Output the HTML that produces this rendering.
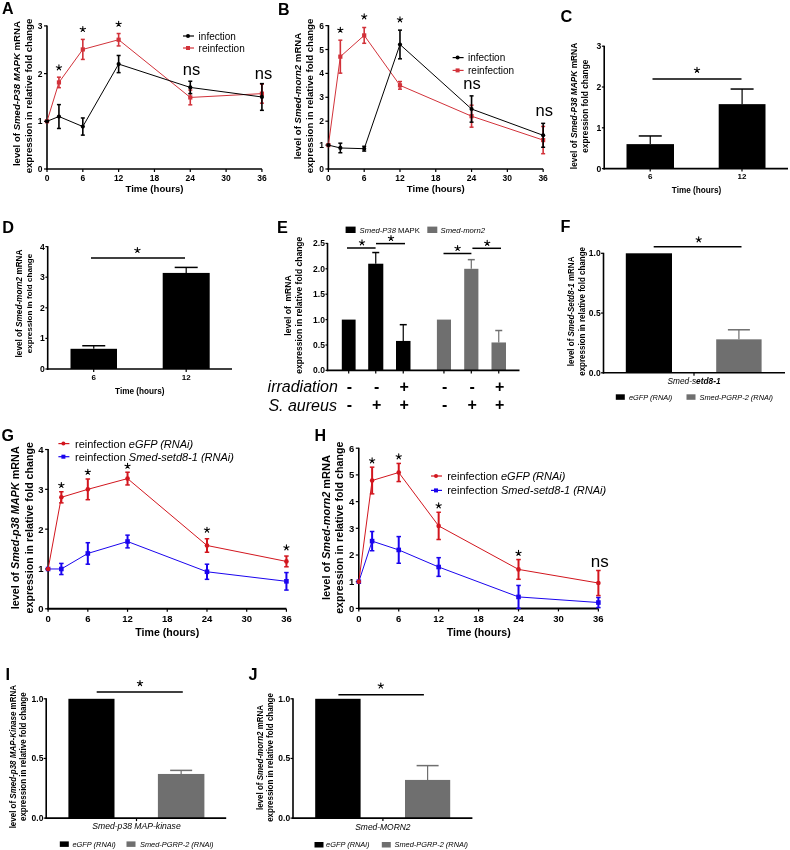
<!DOCTYPE html>
<html><head><meta charset="utf-8"><style>
html,body{margin:0;padding:0;background:#fff;}
svg{display:block;filter:blur(0.3px);}
text{font-family:"Liberation Sans",sans-serif;}
</style></head><body>
<svg width="790" height="850" viewBox="0 0 790 850">
<rect x="0" y="0" width="790" height="850" fill="#fff"/>
<text x="2.00" y="14.46" font-size="16" text-anchor="start" fill="#000" xml:space="preserve"><tspan font-weight="bold" font-style="normal">A</tspan></text>
<line x1="47.00" y1="169.80" x2="47.00" y2="25.40" stroke="#000" stroke-width="1.6" stroke-linecap="butt"/>
<line x1="44.00" y1="169.00" x2="47.00" y2="169.00" stroke="#000" stroke-width="1.2" stroke-linecap="butt"/>
<text x="42.50" y="172.04" font-size="8.5" text-anchor="end" fill="#000" xml:space="preserve"><tspan font-weight="bold" font-style="normal">0</tspan></text>
<line x1="44.00" y1="121.30" x2="47.00" y2="121.30" stroke="#000" stroke-width="1.2" stroke-linecap="butt"/>
<text x="42.50" y="124.34" font-size="8.5" text-anchor="end" fill="#000" xml:space="preserve"><tspan font-weight="bold" font-style="normal">1</tspan></text>
<line x1="44.00" y1="73.60" x2="47.00" y2="73.60" stroke="#000" stroke-width="1.2" stroke-linecap="butt"/>
<text x="42.50" y="76.64" font-size="8.5" text-anchor="end" fill="#000" xml:space="preserve"><tspan font-weight="bold" font-style="normal">2</tspan></text>
<line x1="44.00" y1="25.90" x2="47.00" y2="25.90" stroke="#000" stroke-width="1.2" stroke-linecap="butt"/>
<text x="42.50" y="28.94" font-size="8.5" text-anchor="end" fill="#000" xml:space="preserve"><tspan font-weight="bold" font-style="normal">3</tspan></text>
<line x1="46.20" y1="169.00" x2="261.92" y2="169.00" stroke="#000" stroke-width="1.6" stroke-linecap="butt"/>
<line x1="47.00" y1="169.00" x2="47.00" y2="172.00" stroke="#000" stroke-width="1.2" stroke-linecap="butt"/>
<text x="47.00" y="181.04" font-size="8.5" text-anchor="middle" fill="#000" xml:space="preserve"><tspan font-weight="bold" font-style="normal">0</tspan></text>
<line x1="82.82" y1="169.00" x2="82.82" y2="172.00" stroke="#000" stroke-width="1.2" stroke-linecap="butt"/>
<text x="82.82" y="181.04" font-size="8.5" text-anchor="middle" fill="#000" xml:space="preserve"><tspan font-weight="bold" font-style="normal">6</tspan></text>
<line x1="118.64" y1="169.00" x2="118.64" y2="172.00" stroke="#000" stroke-width="1.2" stroke-linecap="butt"/>
<text x="118.64" y="181.04" font-size="8.5" text-anchor="middle" fill="#000" xml:space="preserve"><tspan font-weight="bold" font-style="normal">12</tspan></text>
<line x1="154.46" y1="169.00" x2="154.46" y2="172.00" stroke="#000" stroke-width="1.2" stroke-linecap="butt"/>
<text x="154.46" y="181.04" font-size="8.5" text-anchor="middle" fill="#000" xml:space="preserve"><tspan font-weight="bold" font-style="normal">18</tspan></text>
<line x1="190.28" y1="169.00" x2="190.28" y2="172.00" stroke="#000" stroke-width="1.2" stroke-linecap="butt"/>
<text x="190.28" y="181.04" font-size="8.5" text-anchor="middle" fill="#000" xml:space="preserve"><tspan font-weight="bold" font-style="normal">24</tspan></text>
<line x1="226.10" y1="169.00" x2="226.10" y2="172.00" stroke="#000" stroke-width="1.2" stroke-linecap="butt"/>
<text x="226.10" y="181.04" font-size="8.5" text-anchor="middle" fill="#000" xml:space="preserve"><tspan font-weight="bold" font-style="normal">30</tspan></text>
<line x1="261.92" y1="169.00" x2="261.92" y2="172.00" stroke="#000" stroke-width="1.2" stroke-linecap="butt"/>
<text x="261.92" y="181.04" font-size="8.5" text-anchor="middle" fill="#000" xml:space="preserve"><tspan font-weight="bold" font-style="normal">36</tspan></text>
<text x="154.46" y="192.30" font-size="9.6" text-anchor="middle" fill="#000" xml:space="preserve"><tspan font-weight="bold" font-style="normal">Time (hours)</tspan></text>
<text x="19.60" y="93.60" font-size="9.6" text-anchor="middle" fill="#000" transform="rotate(-90 19.60 93.60)" xml:space="preserve"><tspan font-weight="bold" font-style="normal">level of </tspan><tspan font-weight="bold" font-style="italic">Smed-P38 MAPK</tspan><tspan font-weight="bold" font-style="normal"> mRNA</tspan></text>
<text x="32.00" y="96.00" font-size="9.6" text-anchor="middle" fill="#000" transform="rotate(-90 32.00 96.00)" xml:space="preserve"><tspan font-weight="bold" font-style="normal">expression in relative fold change</tspan></text>
<polyline points="47.00,121.30 58.94,82.42 82.82,49.42 118.64,39.73 190.28,97.45 261.92,93.63" fill="none" stroke="#d2323a" stroke-width="1" stroke-linejoin="round"/>
<line x1="58.94" y1="77.18" x2="58.94" y2="87.67" stroke="#d2323a" stroke-width="1.6" stroke-linecap="butt"/>
<line x1="56.94" y1="77.18" x2="60.94" y2="77.18" stroke="#d2323a" stroke-width="1.5" stroke-linecap="butt"/>
<line x1="56.94" y1="87.67" x2="60.94" y2="87.67" stroke="#d2323a" stroke-width="1.5" stroke-linecap="butt"/>
<line x1="82.82" y1="39.40" x2="82.82" y2="59.43" stroke="#d2323a" stroke-width="1.6" stroke-linecap="butt"/>
<line x1="80.82" y1="39.40" x2="84.82" y2="39.40" stroke="#d2323a" stroke-width="1.5" stroke-linecap="butt"/>
<line x1="80.82" y1="59.43" x2="84.82" y2="59.43" stroke="#d2323a" stroke-width="1.5" stroke-linecap="butt"/>
<line x1="118.64" y1="33.53" x2="118.64" y2="45.93" stroke="#d2323a" stroke-width="1.6" stroke-linecap="butt"/>
<line x1="116.64" y1="33.53" x2="120.64" y2="33.53" stroke="#d2323a" stroke-width="1.5" stroke-linecap="butt"/>
<line x1="116.64" y1="45.93" x2="120.64" y2="45.93" stroke="#d2323a" stroke-width="1.5" stroke-linecap="butt"/>
<line x1="190.28" y1="90.06" x2="190.28" y2="104.84" stroke="#d2323a" stroke-width="1.6" stroke-linecap="butt"/>
<line x1="188.28" y1="90.06" x2="192.28" y2="90.06" stroke="#d2323a" stroke-width="1.5" stroke-linecap="butt"/>
<line x1="188.28" y1="104.84" x2="192.28" y2="104.84" stroke="#d2323a" stroke-width="1.5" stroke-linecap="butt"/>
<line x1="261.92" y1="84.09" x2="261.92" y2="103.17" stroke="#d2323a" stroke-width="1.6" stroke-linecap="butt"/>
<line x1="259.92" y1="84.09" x2="263.92" y2="84.09" stroke="#d2323a" stroke-width="1.5" stroke-linecap="butt"/>
<line x1="259.92" y1="103.17" x2="263.92" y2="103.17" stroke="#d2323a" stroke-width="1.5" stroke-linecap="butt"/>
<rect x="44.90" y="119.20" width="4.20" height="4.20" fill="#d2323a"/>
<rect x="56.84" y="80.32" width="4.20" height="4.20" fill="#d2323a"/>
<rect x="80.72" y="47.32" width="4.20" height="4.20" fill="#d2323a"/>
<rect x="116.54" y="37.63" width="4.20" height="4.20" fill="#d2323a"/>
<rect x="188.18" y="95.35" width="4.20" height="4.20" fill="#d2323a"/>
<rect x="259.82" y="91.53" width="4.20" height="4.20" fill="#d2323a"/>
<polyline points="47.00,121.30 58.94,116.53 82.82,126.55 118.64,64.06 190.28,87.43 261.92,96.97" fill="none" stroke="#000" stroke-width="1" stroke-linejoin="round"/>
<line x1="58.94" y1="104.61" x2="58.94" y2="128.46" stroke="#000" stroke-width="1.6" stroke-linecap="butt"/>
<line x1="56.94" y1="104.61" x2="60.94" y2="104.61" stroke="#000" stroke-width="1.5" stroke-linecap="butt"/>
<line x1="56.94" y1="128.46" x2="60.94" y2="128.46" stroke="#000" stroke-width="1.5" stroke-linecap="butt"/>
<line x1="82.82" y1="117.96" x2="82.82" y2="135.13" stroke="#000" stroke-width="1.6" stroke-linecap="butt"/>
<line x1="80.82" y1="117.96" x2="84.82" y2="117.96" stroke="#000" stroke-width="1.5" stroke-linecap="butt"/>
<line x1="80.82" y1="135.13" x2="84.82" y2="135.13" stroke="#000" stroke-width="1.5" stroke-linecap="butt"/>
<line x1="118.64" y1="55.47" x2="118.64" y2="72.65" stroke="#000" stroke-width="1.6" stroke-linecap="butt"/>
<line x1="116.64" y1="55.47" x2="120.64" y2="55.47" stroke="#000" stroke-width="1.5" stroke-linecap="butt"/>
<line x1="116.64" y1="72.65" x2="120.64" y2="72.65" stroke="#000" stroke-width="1.5" stroke-linecap="butt"/>
<line x1="190.28" y1="81.23" x2="190.28" y2="93.63" stroke="#000" stroke-width="1.6" stroke-linecap="butt"/>
<line x1="188.28" y1="81.23" x2="192.28" y2="81.23" stroke="#000" stroke-width="1.5" stroke-linecap="butt"/>
<line x1="188.28" y1="93.63" x2="192.28" y2="93.63" stroke="#000" stroke-width="1.5" stroke-linecap="butt"/>
<line x1="261.92" y1="83.62" x2="261.92" y2="110.33" stroke="#000" stroke-width="1.6" stroke-linecap="butt"/>
<line x1="259.92" y1="83.62" x2="263.92" y2="83.62" stroke="#000" stroke-width="1.5" stroke-linecap="butt"/>
<line x1="259.92" y1="110.33" x2="263.92" y2="110.33" stroke="#000" stroke-width="1.5" stroke-linecap="butt"/>
<circle cx="47.00" cy="121.30" r="2.1" fill="#000"/>
<circle cx="58.94" cy="116.53" r="2.1" fill="#000"/>
<circle cx="82.82" cy="126.55" r="2.1" fill="#000"/>
<circle cx="118.64" cy="64.06" r="2.1" fill="#000"/>
<circle cx="190.28" cy="87.43" r="2.1" fill="#000"/>
<circle cx="261.92" cy="96.97" r="2.1" fill="#000"/>
<path d="M58.94 67.66L58.94 64.91M58.94 67.66L61.56 66.81M58.94 67.66L60.56 69.89M58.94 67.66L57.32 69.89M58.94 67.66L56.32 66.81" stroke="#000" stroke-width="1.08" stroke-linecap="round" fill="none"/>
<path d="M82.82 29.26L82.82 26.51M82.82 29.26L85.44 28.41M82.82 29.26L84.44 31.49M82.82 29.26L81.20 31.49M82.82 29.26L80.20 28.41" stroke="#000" stroke-width="1.08" stroke-linecap="round" fill="none"/>
<path d="M118.64 24.06L118.64 21.31M118.64 24.06L121.26 23.21M118.64 24.06L120.26 26.29M118.64 24.06L117.02 26.29M118.64 24.06L116.02 23.21" stroke="#000" stroke-width="1.08" stroke-linecap="round" fill="none"/>
<text x="191.50" y="75.00" font-size="16.5" text-anchor="middle" fill="#000" xml:space="preserve"><tspan font-weight="normal" font-style="normal">ns</tspan></text>
<text x="263.50" y="79.00" font-size="16.5" text-anchor="middle" fill="#000" xml:space="preserve"><tspan font-weight="normal" font-style="normal">ns</tspan></text>
<line x1="183.00" y1="36.00" x2="194.00" y2="36.00" stroke="#000" stroke-width="1.2" stroke-linecap="butt"/>
<circle cx="188.00" cy="36.00" r="2.0" fill="#000"/>
<line x1="183.00" y1="48.00" x2="194.00" y2="48.00" stroke="#d2323a" stroke-width="1.2" stroke-linecap="butt"/>
<rect x="186.00" y="46.00" width="4.00" height="4.00" fill="#d2323a"/>
<text x="198.60" y="39.60" font-size="10" text-anchor="start" fill="#000" xml:space="preserve"><tspan font-weight="normal" font-style="normal">infection</tspan></text>
<text x="198.60" y="51.60" font-size="10" text-anchor="start" fill="#000" xml:space="preserve"><tspan font-weight="normal" font-style="normal">reinfection</tspan></text>
<text x="278.00" y="15.46" font-size="16" text-anchor="start" fill="#000" xml:space="preserve"><tspan font-weight="bold" font-style="normal">B</tspan></text>
<line x1="328.40" y1="169.80" x2="328.40" y2="25.10" stroke="#000" stroke-width="1.6" stroke-linecap="butt"/>
<line x1="325.40" y1="169.00" x2="328.40" y2="169.00" stroke="#000" stroke-width="1.2" stroke-linecap="butt"/>
<text x="323.90" y="172.04" font-size="8.5" text-anchor="end" fill="#000" xml:space="preserve"><tspan font-weight="bold" font-style="normal">0</tspan></text>
<line x1="325.40" y1="145.10" x2="328.40" y2="145.10" stroke="#000" stroke-width="1.2" stroke-linecap="butt"/>
<text x="323.90" y="148.14" font-size="8.5" text-anchor="end" fill="#000" xml:space="preserve"><tspan font-weight="bold" font-style="normal">1</tspan></text>
<line x1="325.40" y1="121.20" x2="328.40" y2="121.20" stroke="#000" stroke-width="1.2" stroke-linecap="butt"/>
<text x="323.90" y="124.24" font-size="8.5" text-anchor="end" fill="#000" xml:space="preserve"><tspan font-weight="bold" font-style="normal">2</tspan></text>
<line x1="325.40" y1="97.30" x2="328.40" y2="97.30" stroke="#000" stroke-width="1.2" stroke-linecap="butt"/>
<text x="323.90" y="100.34" font-size="8.5" text-anchor="end" fill="#000" xml:space="preserve"><tspan font-weight="bold" font-style="normal">3</tspan></text>
<line x1="325.40" y1="73.40" x2="328.40" y2="73.40" stroke="#000" stroke-width="1.2" stroke-linecap="butt"/>
<text x="323.90" y="76.44" font-size="8.5" text-anchor="end" fill="#000" xml:space="preserve"><tspan font-weight="bold" font-style="normal">4</tspan></text>
<line x1="325.40" y1="49.50" x2="328.40" y2="49.50" stroke="#000" stroke-width="1.2" stroke-linecap="butt"/>
<text x="323.90" y="52.54" font-size="8.5" text-anchor="end" fill="#000" xml:space="preserve"><tspan font-weight="bold" font-style="normal">5</tspan></text>
<line x1="325.40" y1="25.60" x2="328.40" y2="25.60" stroke="#000" stroke-width="1.2" stroke-linecap="butt"/>
<text x="323.90" y="28.64" font-size="8.5" text-anchor="end" fill="#000" xml:space="preserve"><tspan font-weight="bold" font-style="normal">6</tspan></text>
<line x1="327.60" y1="169.00" x2="543.14" y2="169.00" stroke="#000" stroke-width="1.6" stroke-linecap="butt"/>
<line x1="328.40" y1="169.00" x2="328.40" y2="172.00" stroke="#000" stroke-width="1.2" stroke-linecap="butt"/>
<text x="328.40" y="181.04" font-size="8.5" text-anchor="middle" fill="#000" xml:space="preserve"><tspan font-weight="bold" font-style="normal">0</tspan></text>
<line x1="364.19" y1="169.00" x2="364.19" y2="172.00" stroke="#000" stroke-width="1.2" stroke-linecap="butt"/>
<text x="364.19" y="181.04" font-size="8.5" text-anchor="middle" fill="#000" xml:space="preserve"><tspan font-weight="bold" font-style="normal">6</tspan></text>
<line x1="399.98" y1="169.00" x2="399.98" y2="172.00" stroke="#000" stroke-width="1.2" stroke-linecap="butt"/>
<text x="399.98" y="181.04" font-size="8.5" text-anchor="middle" fill="#000" xml:space="preserve"><tspan font-weight="bold" font-style="normal">12</tspan></text>
<line x1="435.77" y1="169.00" x2="435.77" y2="172.00" stroke="#000" stroke-width="1.2" stroke-linecap="butt"/>
<text x="435.77" y="181.04" font-size="8.5" text-anchor="middle" fill="#000" xml:space="preserve"><tspan font-weight="bold" font-style="normal">18</tspan></text>
<line x1="471.56" y1="169.00" x2="471.56" y2="172.00" stroke="#000" stroke-width="1.2" stroke-linecap="butt"/>
<text x="471.56" y="181.04" font-size="8.5" text-anchor="middle" fill="#000" xml:space="preserve"><tspan font-weight="bold" font-style="normal">24</tspan></text>
<line x1="507.35" y1="169.00" x2="507.35" y2="172.00" stroke="#000" stroke-width="1.2" stroke-linecap="butt"/>
<text x="507.35" y="181.04" font-size="8.5" text-anchor="middle" fill="#000" xml:space="preserve"><tspan font-weight="bold" font-style="normal">30</tspan></text>
<line x1="543.14" y1="169.00" x2="543.14" y2="172.00" stroke="#000" stroke-width="1.2" stroke-linecap="butt"/>
<text x="543.14" y="181.04" font-size="8.5" text-anchor="middle" fill="#000" xml:space="preserve"><tspan font-weight="bold" font-style="normal">36</tspan></text>
<text x="435.77" y="192.30" font-size="9.6" text-anchor="middle" fill="#000" xml:space="preserve"><tspan font-weight="bold" font-style="normal">Time (hours)</tspan></text>
<text x="300.50" y="96.00" font-size="9.6" text-anchor="middle" fill="#000" transform="rotate(-90 300.50 96.00)" xml:space="preserve"><tspan font-weight="bold" font-style="normal">level of </tspan><tspan font-weight="bold" font-style="italic">Smed-morn2</tspan><tspan font-weight="bold" font-style="normal"> mRNA</tspan></text>
<text x="312.50" y="96.00" font-size="9.6" text-anchor="middle" fill="#000" transform="rotate(-90 312.50 96.00)" xml:space="preserve"><tspan font-weight="bold" font-style="normal">expression in relative fold change</tspan></text>
<polyline points="328.40,145.10 340.33,56.67 364.19,35.40 399.98,85.35 471.56,116.18 543.14,140.08" fill="none" stroke="#d2323a" stroke-width="1" stroke-linejoin="round"/>
<line x1="340.33" y1="40.18" x2="340.33" y2="73.16" stroke="#d2323a" stroke-width="1.6" stroke-linecap="butt"/>
<line x1="338.33" y1="40.18" x2="342.33" y2="40.18" stroke="#d2323a" stroke-width="1.5" stroke-linecap="butt"/>
<line x1="338.33" y1="73.16" x2="342.33" y2="73.16" stroke="#d2323a" stroke-width="1.5" stroke-linecap="butt"/>
<line x1="364.19" y1="27.51" x2="364.19" y2="43.29" stroke="#d2323a" stroke-width="1.6" stroke-linecap="butt"/>
<line x1="362.19" y1="27.51" x2="366.19" y2="27.51" stroke="#d2323a" stroke-width="1.5" stroke-linecap="butt"/>
<line x1="362.19" y1="43.29" x2="366.19" y2="43.29" stroke="#d2323a" stroke-width="1.5" stroke-linecap="butt"/>
<line x1="399.98" y1="81.53" x2="399.98" y2="89.17" stroke="#d2323a" stroke-width="1.6" stroke-linecap="butt"/>
<line x1="397.98" y1="81.53" x2="401.98" y2="81.53" stroke="#d2323a" stroke-width="1.5" stroke-linecap="butt"/>
<line x1="397.98" y1="89.17" x2="401.98" y2="89.17" stroke="#d2323a" stroke-width="1.5" stroke-linecap="butt"/>
<line x1="471.56" y1="105.19" x2="471.56" y2="127.18" stroke="#d2323a" stroke-width="1.6" stroke-linecap="butt"/>
<line x1="469.56" y1="105.19" x2="473.56" y2="105.19" stroke="#d2323a" stroke-width="1.5" stroke-linecap="butt"/>
<line x1="469.56" y1="127.18" x2="473.56" y2="127.18" stroke="#d2323a" stroke-width="1.5" stroke-linecap="butt"/>
<line x1="543.14" y1="126.46" x2="543.14" y2="153.70" stroke="#d2323a" stroke-width="1.6" stroke-linecap="butt"/>
<line x1="541.14" y1="126.46" x2="545.14" y2="126.46" stroke="#d2323a" stroke-width="1.5" stroke-linecap="butt"/>
<line x1="541.14" y1="153.70" x2="545.14" y2="153.70" stroke="#d2323a" stroke-width="1.5" stroke-linecap="butt"/>
<rect x="326.30" y="143.00" width="4.20" height="4.20" fill="#d2323a"/>
<rect x="338.23" y="54.57" width="4.20" height="4.20" fill="#d2323a"/>
<rect x="362.09" y="33.30" width="4.20" height="4.20" fill="#d2323a"/>
<rect x="397.88" y="83.25" width="4.20" height="4.20" fill="#d2323a"/>
<rect x="469.46" y="114.08" width="4.20" height="4.20" fill="#d2323a"/>
<rect x="541.04" y="137.98" width="4.20" height="4.20" fill="#d2323a"/>
<polyline points="328.40,145.10 340.33,147.97 364.19,148.69 399.98,44.48 471.56,109.01 543.14,135.30" fill="none" stroke="#000" stroke-width="1" stroke-linejoin="round"/>
<line x1="340.33" y1="143.19" x2="340.33" y2="152.75" stroke="#000" stroke-width="1.6" stroke-linecap="butt"/>
<line x1="338.33" y1="143.19" x2="342.33" y2="143.19" stroke="#000" stroke-width="1.5" stroke-linecap="butt"/>
<line x1="338.33" y1="152.75" x2="342.33" y2="152.75" stroke="#000" stroke-width="1.5" stroke-linecap="butt"/>
<line x1="364.19" y1="146.30" x2="364.19" y2="151.07" stroke="#000" stroke-width="1.6" stroke-linecap="butt"/>
<line x1="362.19" y1="146.30" x2="366.19" y2="146.30" stroke="#000" stroke-width="1.5" stroke-linecap="butt"/>
<line x1="362.19" y1="151.07" x2="366.19" y2="151.07" stroke="#000" stroke-width="1.5" stroke-linecap="butt"/>
<line x1="399.98" y1="30.14" x2="399.98" y2="58.82" stroke="#000" stroke-width="1.6" stroke-linecap="butt"/>
<line x1="397.98" y1="30.14" x2="401.98" y2="30.14" stroke="#000" stroke-width="1.5" stroke-linecap="butt"/>
<line x1="397.98" y1="58.82" x2="401.98" y2="58.82" stroke="#000" stroke-width="1.5" stroke-linecap="butt"/>
<line x1="471.56" y1="95.87" x2="471.56" y2="122.16" stroke="#000" stroke-width="1.6" stroke-linecap="butt"/>
<line x1="469.56" y1="95.87" x2="473.56" y2="95.87" stroke="#000" stroke-width="1.5" stroke-linecap="butt"/>
<line x1="469.56" y1="122.16" x2="473.56" y2="122.16" stroke="#000" stroke-width="1.5" stroke-linecap="butt"/>
<line x1="543.14" y1="123.35" x2="543.14" y2="147.25" stroke="#000" stroke-width="1.6" stroke-linecap="butt"/>
<line x1="541.14" y1="123.35" x2="545.14" y2="123.35" stroke="#000" stroke-width="1.5" stroke-linecap="butt"/>
<line x1="541.14" y1="147.25" x2="545.14" y2="147.25" stroke="#000" stroke-width="1.5" stroke-linecap="butt"/>
<circle cx="328.40" cy="145.10" r="2.1" fill="#000"/>
<circle cx="340.33" cy="147.97" r="2.1" fill="#000"/>
<circle cx="364.19" cy="148.69" r="2.1" fill="#000"/>
<circle cx="399.98" cy="44.48" r="2.1" fill="#000"/>
<circle cx="471.56" cy="109.01" r="2.1" fill="#000"/>
<circle cx="543.14" cy="135.30" r="2.1" fill="#000"/>
<path d="M340.33 30.06L340.33 27.31M340.33 30.06L342.95 29.21M340.33 30.06L341.95 32.29M340.33 30.06L338.71 32.29M340.33 30.06L337.71 29.21" stroke="#000" stroke-width="1.08" stroke-linecap="round" fill="none"/>
<path d="M364.19 16.66L364.19 13.91M364.19 16.66L366.81 15.81M364.19 16.66L365.81 18.89M364.19 16.66L362.57 18.89M364.19 16.66L361.57 15.81" stroke="#000" stroke-width="1.08" stroke-linecap="round" fill="none"/>
<path d="M399.98 19.66L399.98 16.91M399.98 19.66L402.60 18.81M399.98 19.66L401.60 21.89M399.98 19.66L398.36 21.89M399.98 19.66L397.36 18.81" stroke="#000" stroke-width="1.08" stroke-linecap="round" fill="none"/>
<text x="472.00" y="89.40" font-size="16.5" text-anchor="middle" fill="#000" xml:space="preserve"><tspan font-weight="normal" font-style="normal">ns</tspan></text>
<text x="544.30" y="116.00" font-size="16.5" text-anchor="middle" fill="#000" xml:space="preserve"><tspan font-weight="normal" font-style="normal">ns</tspan></text>
<line x1="452.60" y1="57.60" x2="463.60" y2="57.60" stroke="#000" stroke-width="1.2" stroke-linecap="butt"/>
<circle cx="457.60" cy="57.60" r="2.0" fill="#000"/>
<line x1="452.60" y1="70.40" x2="463.60" y2="70.40" stroke="#d2323a" stroke-width="1.2" stroke-linecap="butt"/>
<rect x="455.60" y="68.40" width="4.00" height="4.00" fill="#d2323a"/>
<text x="468.00" y="61.20" font-size="10" text-anchor="start" fill="#000" xml:space="preserve"><tspan font-weight="normal" font-style="normal">infection</tspan></text>
<text x="468.00" y="74.00" font-size="10" text-anchor="start" fill="#000" xml:space="preserve"><tspan font-weight="normal" font-style="normal">reinfection</tspan></text>
<text x="560.50" y="21.87" font-size="16.3" text-anchor="start" fill="#000" xml:space="preserve"><tspan font-weight="bold" font-style="normal">C</tspan></text>
<rect x="626.50" y="144.12" width="47.50" height="24.48" fill="#000"/>
<line x1="650.25" y1="144.12" x2="650.25" y2="135.96" stroke="#000" stroke-width="1.2" stroke-linecap="butt"/>
<line x1="638.75" y1="135.96" x2="661.75" y2="135.96" stroke="#000" stroke-width="1.5" stroke-linecap="butt"/>
<rect x="718.70" y="104.14" width="46.80" height="64.46" fill="#000"/>
<line x1="742.10" y1="104.14" x2="742.10" y2="89.04" stroke="#000" stroke-width="1.2" stroke-linecap="butt"/>
<line x1="730.60" y1="89.04" x2="753.60" y2="89.04" stroke="#000" stroke-width="1.5" stroke-linecap="butt"/>
<line x1="604.20" y1="169.40" x2="604.20" y2="45.70" stroke="#000" stroke-width="1.6" stroke-linecap="butt"/>
<line x1="601.90" y1="168.60" x2="604.20" y2="168.60" stroke="#000" stroke-width="1.2" stroke-linecap="butt"/>
<text x="601.40" y="171.68" font-size="8.6" text-anchor="end" fill="#000" xml:space="preserve"><tspan font-weight="bold" font-style="normal">0</tspan></text>
<line x1="601.90" y1="127.80" x2="604.20" y2="127.80" stroke="#000" stroke-width="1.2" stroke-linecap="butt"/>
<text x="601.40" y="130.88" font-size="8.6" text-anchor="end" fill="#000" xml:space="preserve"><tspan font-weight="bold" font-style="normal">1</tspan></text>
<line x1="601.90" y1="87.00" x2="604.20" y2="87.00" stroke="#000" stroke-width="1.2" stroke-linecap="butt"/>
<text x="601.40" y="90.08" font-size="8.6" text-anchor="end" fill="#000" xml:space="preserve"><tspan font-weight="bold" font-style="normal">2</tspan></text>
<line x1="601.90" y1="46.20" x2="604.20" y2="46.20" stroke="#000" stroke-width="1.2" stroke-linecap="butt"/>
<text x="601.40" y="49.28" font-size="8.6" text-anchor="end" fill="#000" xml:space="preserve"><tspan font-weight="bold" font-style="normal">3</tspan></text>
<line x1="603.40" y1="168.60" x2="788.00" y2="168.60" stroke="#000" stroke-width="1.6" stroke-linecap="butt"/>
<line x1="650.20" y1="168.60" x2="650.20" y2="171.60" stroke="#000" stroke-width="1.2" stroke-linecap="butt"/>
<text x="650.20" y="179.36" font-size="8" text-anchor="middle" fill="#000" xml:space="preserve"><tspan font-weight="bold" font-style="normal">6</tspan></text>
<line x1="742.00" y1="168.60" x2="742.00" y2="171.60" stroke="#000" stroke-width="1.2" stroke-linecap="butt"/>
<text x="742.00" y="179.36" font-size="8" text-anchor="middle" fill="#000" xml:space="preserve"><tspan font-weight="bold" font-style="normal">12</tspan></text>
<text x="696.50" y="192.90" font-size="8.2" text-anchor="middle" fill="#000" xml:space="preserve"><tspan font-weight="bold" font-style="normal">Time (hours)</tspan></text>
<line x1="652.50" y1="79.00" x2="741.50" y2="79.00" stroke="#000" stroke-width="1.5" stroke-linecap="butt"/>
<path d="M697.00 70.16L697.00 67.41M697.00 70.16L699.62 69.31M697.00 70.16L698.62 72.39M697.00 70.16L695.38 72.39M697.00 70.16L694.38 69.31" stroke="#000" stroke-width="1.08" stroke-linecap="round" fill="none"/>
<text x="577.30" y="106.00" font-size="8.37" text-anchor="middle" fill="#000" transform="rotate(-90 577.30 106.00)" xml:space="preserve"><tspan font-weight="bold" font-style="normal">level of </tspan><tspan font-weight="bold" font-style="italic">Smed-P38 MAPK</tspan><tspan font-weight="bold" font-style="normal"> mRNA</tspan></text>
<text x="587.60" y="106.20" font-size="8.35" text-anchor="middle" fill="#000" transform="rotate(-90 587.60 106.20)" xml:space="preserve"><tspan font-weight="bold" font-style="normal">expression fold change</tspan></text>
<text x="2.30" y="232.67" font-size="16.3" text-anchor="start" fill="#000" xml:space="preserve"><tspan font-weight="bold" font-style="normal">D</tspan></text>
<rect x="70.50" y="348.80" width="46.50" height="20.20" fill="#000"/>
<line x1="93.75" y1="348.80" x2="93.75" y2="345.74" stroke="#000" stroke-width="1.2" stroke-linecap="butt"/>
<line x1="82.25" y1="345.74" x2="105.25" y2="345.74" stroke="#000" stroke-width="1.5" stroke-linecap="butt"/>
<rect x="162.70" y="272.92" width="47.00" height="96.08" fill="#000"/>
<line x1="186.20" y1="272.92" x2="186.20" y2="267.41" stroke="#000" stroke-width="1.2" stroke-linecap="butt"/>
<line x1="174.70" y1="267.41" x2="197.70" y2="267.41" stroke="#000" stroke-width="1.5" stroke-linecap="butt"/>
<line x1="47.70" y1="369.80" x2="47.70" y2="246.10" stroke="#000" stroke-width="1.6" stroke-linecap="butt"/>
<line x1="45.40" y1="369.00" x2="47.70" y2="369.00" stroke="#000" stroke-width="1.2" stroke-linecap="butt"/>
<text x="44.90" y="372.08" font-size="8.6" text-anchor="end" fill="#000" xml:space="preserve"><tspan font-weight="bold" font-style="normal">0</tspan></text>
<line x1="45.40" y1="338.40" x2="47.70" y2="338.40" stroke="#000" stroke-width="1.2" stroke-linecap="butt"/>
<text x="44.90" y="341.48" font-size="8.6" text-anchor="end" fill="#000" xml:space="preserve"><tspan font-weight="bold" font-style="normal">1</tspan></text>
<line x1="45.40" y1="307.80" x2="47.70" y2="307.80" stroke="#000" stroke-width="1.2" stroke-linecap="butt"/>
<text x="44.90" y="310.88" font-size="8.6" text-anchor="end" fill="#000" xml:space="preserve"><tspan font-weight="bold" font-style="normal">2</tspan></text>
<line x1="45.40" y1="277.20" x2="47.70" y2="277.20" stroke="#000" stroke-width="1.2" stroke-linecap="butt"/>
<text x="44.90" y="280.28" font-size="8.6" text-anchor="end" fill="#000" xml:space="preserve"><tspan font-weight="bold" font-style="normal">3</tspan></text>
<line x1="45.40" y1="246.60" x2="47.70" y2="246.60" stroke="#000" stroke-width="1.2" stroke-linecap="butt"/>
<text x="44.90" y="249.68" font-size="8.6" text-anchor="end" fill="#000" xml:space="preserve"><tspan font-weight="bold" font-style="normal">4</tspan></text>
<line x1="46.90" y1="369.00" x2="232.00" y2="369.00" stroke="#000" stroke-width="1.6" stroke-linecap="butt"/>
<line x1="93.70" y1="369.00" x2="93.70" y2="372.00" stroke="#000" stroke-width="1.2" stroke-linecap="butt"/>
<text x="93.70" y="379.86" font-size="8" text-anchor="middle" fill="#000" xml:space="preserve"><tspan font-weight="bold" font-style="normal">6</tspan></text>
<line x1="186.20" y1="369.00" x2="186.20" y2="372.00" stroke="#000" stroke-width="1.2" stroke-linecap="butt"/>
<text x="186.20" y="379.86" font-size="8" text-anchor="middle" fill="#000" xml:space="preserve"><tspan font-weight="bold" font-style="normal">12</tspan></text>
<text x="139.80" y="393.90" font-size="8.2" text-anchor="middle" fill="#000" xml:space="preserve"><tspan font-weight="bold" font-style="normal">Time (hours)</tspan></text>
<line x1="91.00" y1="258.00" x2="185.00" y2="258.00" stroke="#000" stroke-width="1.5" stroke-linecap="butt"/>
<path d="M137.40 250.26L137.40 247.51M137.40 250.26L140.02 249.41M137.40 250.26L139.02 252.49M137.40 250.26L135.78 252.49M137.40 250.26L134.78 249.41" stroke="#000" stroke-width="1.08" stroke-linecap="round" fill="none"/>
<text x="22.10" y="303.50" font-size="8.2" text-anchor="middle" fill="#000" transform="rotate(-90 22.10 303.50)" xml:space="preserve"><tspan font-weight="bold" font-style="normal">level of </tspan><tspan font-weight="bold" font-style="italic">Smed-morn2</tspan><tspan font-weight="bold" font-style="normal"> mRNA</tspan></text>
<text x="31.60" y="303.50" font-size="8.07" text-anchor="middle" fill="#000" transform="rotate(-90 31.60 303.50)" xml:space="preserve"><tspan font-weight="bold" font-style="normal">expression in fold change</tspan></text>
<text x="277.00" y="232.67" font-size="16.3" text-anchor="start" fill="#000" xml:space="preserve"><tspan font-weight="bold" font-style="normal">E</tspan></text>
<rect x="341.80" y="319.60" width="13.80" height="50.80" fill="#000"/>
<rect x="368.20" y="263.72" width="15.10" height="106.68" fill="#000"/>
<line x1="375.75" y1="263.72" x2="375.75" y2="252.54" stroke="#000" stroke-width="1.2" stroke-linecap="butt"/>
<line x1="372.25" y1="252.54" x2="379.25" y2="252.54" stroke="#000" stroke-width="1.5" stroke-linecap="butt"/>
<rect x="396.00" y="340.94" width="14.50" height="29.46" fill="#000"/>
<line x1="403.25" y1="340.94" x2="403.25" y2="324.68" stroke="#000" stroke-width="1.2" stroke-linecap="butt"/>
<line x1="399.75" y1="324.68" x2="406.75" y2="324.68" stroke="#000" stroke-width="1.5" stroke-linecap="butt"/>
<rect x="436.90" y="319.60" width="14.10" height="50.80" fill="#6f6f6f"/>
<rect x="464.20" y="268.80" width="14.20" height="101.60" fill="#6f6f6f"/>
<line x1="471.30" y1="268.80" x2="471.30" y2="259.66" stroke="#6f6f6f" stroke-width="1.2" stroke-linecap="butt"/>
<line x1="467.80" y1="259.66" x2="474.80" y2="259.66" stroke="#6f6f6f" stroke-width="1.5" stroke-linecap="butt"/>
<rect x="491.50" y="342.46" width="14.50" height="27.94" fill="#6f6f6f"/>
<line x1="498.75" y1="342.46" x2="498.75" y2="330.52" stroke="#6f6f6f" stroke-width="1.2" stroke-linecap="butt"/>
<line x1="495.25" y1="330.52" x2="502.25" y2="330.52" stroke="#6f6f6f" stroke-width="1.5" stroke-linecap="butt"/>
<line x1="327.50" y1="371.20" x2="327.50" y2="242.90" stroke="#000" stroke-width="1.6" stroke-linecap="butt"/>
<line x1="325.50" y1="370.40" x2="327.50" y2="370.40" stroke="#000" stroke-width="1.2" stroke-linecap="butt"/>
<text x="324.90" y="373.44" font-size="8.5" text-anchor="end" fill="#000" xml:space="preserve"><tspan font-weight="bold" font-style="normal">0.0</tspan></text>
<line x1="325.50" y1="345.00" x2="327.50" y2="345.00" stroke="#000" stroke-width="1.2" stroke-linecap="butt"/>
<text x="324.90" y="348.04" font-size="8.5" text-anchor="end" fill="#000" xml:space="preserve"><tspan font-weight="bold" font-style="normal">0.5</tspan></text>
<line x1="325.50" y1="319.60" x2="327.50" y2="319.60" stroke="#000" stroke-width="1.2" stroke-linecap="butt"/>
<text x="324.90" y="322.64" font-size="8.5" text-anchor="end" fill="#000" xml:space="preserve"><tspan font-weight="bold" font-style="normal">1.0</tspan></text>
<line x1="325.50" y1="294.20" x2="327.50" y2="294.20" stroke="#000" stroke-width="1.2" stroke-linecap="butt"/>
<text x="324.90" y="297.24" font-size="8.5" text-anchor="end" fill="#000" xml:space="preserve"><tspan font-weight="bold" font-style="normal">1.5</tspan></text>
<line x1="325.50" y1="268.80" x2="327.50" y2="268.80" stroke="#000" stroke-width="1.2" stroke-linecap="butt"/>
<text x="324.90" y="271.84" font-size="8.5" text-anchor="end" fill="#000" xml:space="preserve"><tspan font-weight="bold" font-style="normal">2.0</tspan></text>
<line x1="325.50" y1="243.40" x2="327.50" y2="243.40" stroke="#000" stroke-width="1.2" stroke-linecap="butt"/>
<text x="324.90" y="246.44" font-size="8.5" text-anchor="end" fill="#000" xml:space="preserve"><tspan font-weight="bold" font-style="normal">2.5</tspan></text>
<line x1="326.70" y1="370.40" x2="519.50" y2="370.40" stroke="#000" stroke-width="1.6" stroke-linecap="butt"/>
<line x1="348.70" y1="370.40" x2="348.70" y2="373.40" stroke="#000" stroke-width="1.2" stroke-linecap="butt"/>
<line x1="375.75" y1="370.40" x2="375.75" y2="373.40" stroke="#000" stroke-width="1.2" stroke-linecap="butt"/>
<line x1="403.25" y1="370.40" x2="403.25" y2="373.40" stroke="#000" stroke-width="1.2" stroke-linecap="butt"/>
<line x1="443.95" y1="370.40" x2="443.95" y2="373.40" stroke="#000" stroke-width="1.2" stroke-linecap="butt"/>
<line x1="471.30" y1="370.40" x2="471.30" y2="373.40" stroke="#000" stroke-width="1.2" stroke-linecap="butt"/>
<line x1="498.75" y1="370.40" x2="498.75" y2="373.40" stroke="#000" stroke-width="1.2" stroke-linecap="butt"/>
<rect x="345.60" y="226.60" width="10.00" height="6.40" fill="#000"/>
<text x="359.60" y="232.60" font-size="7.7" text-anchor="start" fill="#000" xml:space="preserve"><tspan font-weight="normal" font-style="italic">Smed-P38</tspan><tspan font-weight="normal" font-style="normal"> MAPK</tspan></text>
<rect x="427.30" y="226.60" width="10.00" height="6.40" fill="#6f6f6f"/>
<text x="440.50" y="232.60" font-size="7.7" text-anchor="start" fill="#000" xml:space="preserve"><tspan font-weight="normal" font-style="italic">Smed-morn2</tspan></text>
<line x1="347.00" y1="248.00" x2="375.60" y2="248.00" stroke="#000" stroke-width="1.5" stroke-linecap="butt"/>
<path d="M362.00 242.66L362.00 239.91M362.00 242.66L364.62 241.81M362.00 242.66L363.62 244.89M362.00 242.66L360.38 244.89M362.00 242.66L359.38 241.81" stroke="#000" stroke-width="1.08" stroke-linecap="round" fill="none"/>
<line x1="376.00" y1="243.60" x2="405.00" y2="243.60" stroke="#000" stroke-width="1.5" stroke-linecap="butt"/>
<path d="M391.00 238.26L391.00 235.51M391.00 238.26L393.62 237.41M391.00 238.26L392.62 240.49M391.00 238.26L389.38 240.49M391.00 238.26L388.38 237.41" stroke="#000" stroke-width="1.08" stroke-linecap="round" fill="none"/>
<line x1="443.50" y1="253.50" x2="471.40" y2="253.50" stroke="#000" stroke-width="1.5" stroke-linecap="butt"/>
<path d="M457.60 248.26L457.60 245.51M457.60 248.26L460.22 247.41M457.60 248.26L459.22 250.49M457.60 248.26L455.98 250.49M457.60 248.26L454.98 247.41" stroke="#000" stroke-width="1.08" stroke-linecap="round" fill="none"/>
<line x1="472.40" y1="248.30" x2="501.00" y2="248.30" stroke="#000" stroke-width="1.5" stroke-linecap="butt"/>
<path d="M487.20 243.16L487.20 240.41M487.20 243.16L489.82 242.31M487.20 243.16L488.82 245.39M487.20 243.16L485.58 245.39M487.20 243.16L484.58 242.31" stroke="#000" stroke-width="1.08" stroke-linecap="round" fill="none"/>
<text x="291.30" y="305.50" font-size="8.55" text-anchor="middle" fill="#000" transform="rotate(-90 291.30 305.50)" xml:space="preserve"><tspan font-weight="bold" font-style="normal">level of  mRNA</tspan></text>
<text x="302.40" y="305.20" font-size="8.5" text-anchor="middle" fill="#000" transform="rotate(-90 302.40 305.20)" xml:space="preserve"><tspan font-weight="bold" font-style="normal">expression in relative fold change</tspan></text>
<text x="267.60" y="391.60" font-size="16" text-anchor="start" fill="#000" xml:space="preserve"><tspan font-weight="normal" font-style="italic">irradiation</tspan></text>
<text x="268.40" y="410.80" font-size="16" text-anchor="start" fill="#000" xml:space="preserve"><tspan font-weight="normal" font-style="italic">S. aureus</tspan></text>
<text x="349.50" y="391.60" font-size="16" text-anchor="middle" fill="#000" xml:space="preserve"><tspan font-weight="bold" font-style="normal">-</tspan></text>
<text x="349.50" y="410.00" font-size="16" text-anchor="middle" fill="#000" xml:space="preserve"><tspan font-weight="bold" font-style="normal">-</tspan></text>
<text x="376.55" y="391.60" font-size="16" text-anchor="middle" fill="#000" xml:space="preserve"><tspan font-weight="bold" font-style="normal">-</tspan></text>
<text x="376.55" y="410.00" font-size="16" text-anchor="middle" fill="#000" xml:space="preserve"><tspan font-weight="bold" font-style="normal">+</tspan></text>
<text x="404.05" y="391.60" font-size="16" text-anchor="middle" fill="#000" xml:space="preserve"><tspan font-weight="bold" font-style="normal">+</tspan></text>
<text x="404.05" y="410.00" font-size="16" text-anchor="middle" fill="#000" xml:space="preserve"><tspan font-weight="bold" font-style="normal">+</tspan></text>
<text x="444.75" y="391.60" font-size="16" text-anchor="middle" fill="#000" xml:space="preserve"><tspan font-weight="bold" font-style="normal">-</tspan></text>
<text x="444.75" y="410.00" font-size="16" text-anchor="middle" fill="#000" xml:space="preserve"><tspan font-weight="bold" font-style="normal">-</tspan></text>
<text x="472.10" y="391.60" font-size="16" text-anchor="middle" fill="#000" xml:space="preserve"><tspan font-weight="bold" font-style="normal">-</tspan></text>
<text x="472.10" y="410.00" font-size="16" text-anchor="middle" fill="#000" xml:space="preserve"><tspan font-weight="bold" font-style="normal">+</tspan></text>
<text x="499.55" y="391.60" font-size="16" text-anchor="middle" fill="#000" xml:space="preserve"><tspan font-weight="bold" font-style="normal">+</tspan></text>
<text x="499.55" y="410.00" font-size="16" text-anchor="middle" fill="#000" xml:space="preserve"><tspan font-weight="bold" font-style="normal">+</tspan></text>
<text x="560.40" y="231.87" font-size="16.3" text-anchor="start" fill="#000" xml:space="preserve"><tspan font-weight="bold" font-style="normal">F</tspan></text>
<rect x="625.80" y="253.30" width="46.20" height="119.50" fill="#000"/>
<rect x="716.20" y="339.34" width="45.40" height="33.46" fill="#6f6f6f"/>
<line x1="738.90" y1="339.34" x2="738.90" y2="329.78" stroke="#6f6f6f" stroke-width="1.2" stroke-linecap="butt"/>
<line x1="727.90" y1="329.78" x2="749.90" y2="329.78" stroke="#6f6f6f" stroke-width="1.5" stroke-linecap="butt"/>
<line x1="603.50" y1="373.60" x2="603.50" y2="252.80" stroke="#000" stroke-width="1.6" stroke-linecap="butt"/>
<line x1="601.00" y1="372.80" x2="603.50" y2="372.80" stroke="#000" stroke-width="1.2" stroke-linecap="butt"/>
<text x="600.70" y="375.84" font-size="8.5" text-anchor="end" fill="#000" xml:space="preserve"><tspan font-weight="bold" font-style="normal">0.0</tspan></text>
<line x1="601.00" y1="313.05" x2="603.50" y2="313.05" stroke="#000" stroke-width="1.2" stroke-linecap="butt"/>
<text x="600.70" y="316.09" font-size="8.5" text-anchor="end" fill="#000" xml:space="preserve"><tspan font-weight="bold" font-style="normal">0.5</tspan></text>
<line x1="601.00" y1="253.30" x2="603.50" y2="253.30" stroke="#000" stroke-width="1.2" stroke-linecap="butt"/>
<text x="600.70" y="256.34" font-size="8.5" text-anchor="end" fill="#000" xml:space="preserve"><tspan font-weight="bold" font-style="normal">1.0</tspan></text>
<line x1="602.70" y1="372.80" x2="785.00" y2="372.80" stroke="#000" stroke-width="1.6" stroke-linecap="butt"/>
<line x1="694.00" y1="372.80" x2="694.00" y2="375.80" stroke="#000" stroke-width="1.2" stroke-linecap="butt"/>
<line x1="653.70" y1="246.70" x2="741.50" y2="246.70" stroke="#000" stroke-width="1.5" stroke-linecap="butt"/>
<path d="M698.70 239.66L698.70 236.91M698.70 239.66L701.32 238.81M698.70 239.66L700.32 241.89M698.70 239.66L697.08 241.89M698.70 239.66L696.08 238.81" stroke="#000" stroke-width="1.08" stroke-linecap="round" fill="none"/>
<text x="694.00" y="384.30" font-size="8.3" text-anchor="middle" fill="#000" xml:space="preserve"><tspan font-weight="normal" font-style="italic">Smed-s</tspan><tspan font-weight="bold" font-style="italic">etd8-1</tspan></text>
<rect x="615.80" y="394.30" width="9.00" height="5.50" fill="#000"/>
<text x="629.00" y="399.60" font-size="7.4" text-anchor="start" fill="#000" xml:space="preserve"><tspan font-weight="normal" font-style="italic">eGFP (RNAi)</tspan></text>
<rect x="686.50" y="394.30" width="9.00" height="5.50" fill="#6f6f6f"/>
<text x="699.50" y="399.60" font-size="7.4" text-anchor="start" fill="#000" xml:space="preserve"><tspan font-weight="normal" font-style="italic">Smed-PGRP-2 (RNAi)</tspan></text>
<text x="0" y="0" font-size="8.0" text-anchor="middle" fill="#000" transform="translate(574.20 311.40) rotate(-90) scale(1 1.18)" xml:space="preserve"><tspan font-weight="bold" font-style="normal">level of </tspan><tspan font-weight="bold" font-style="italic">Smed-Setd8-1</tspan><tspan font-weight="bold" font-style="normal"> mRNA</tspan></text>
<text x="0" y="0" font-size="8.0" text-anchor="middle" fill="#000" transform="translate(584.60 311.40) rotate(-90) scale(1 1.08)" xml:space="preserve"><tspan font-weight="bold" font-style="normal">expression in relative fold change</tspan></text>
<text x="1.50" y="441.46" font-size="16" text-anchor="start" fill="#000" xml:space="preserve"><tspan font-weight="bold" font-style="normal">G</tspan></text>
<line x1="48.10" y1="609.60" x2="48.10" y2="449.02" stroke="#000" stroke-width="1.6" stroke-linecap="butt"/>
<line x1="45.10" y1="608.80" x2="48.10" y2="608.80" stroke="#000" stroke-width="1.2" stroke-linecap="butt"/>
<text x="43.60" y="612.20" font-size="9.5" text-anchor="end" fill="#000" xml:space="preserve"><tspan font-weight="bold" font-style="normal">0</tspan></text>
<line x1="45.10" y1="568.98" x2="48.10" y2="568.98" stroke="#000" stroke-width="1.2" stroke-linecap="butt"/>
<text x="43.60" y="572.38" font-size="9.5" text-anchor="end" fill="#000" xml:space="preserve"><tspan font-weight="bold" font-style="normal">1</tspan></text>
<line x1="45.10" y1="529.16" x2="48.10" y2="529.16" stroke="#000" stroke-width="1.2" stroke-linecap="butt"/>
<text x="43.60" y="532.56" font-size="9.5" text-anchor="end" fill="#000" xml:space="preserve"><tspan font-weight="bold" font-style="normal">2</tspan></text>
<line x1="45.10" y1="489.34" x2="48.10" y2="489.34" stroke="#000" stroke-width="1.2" stroke-linecap="butt"/>
<text x="43.60" y="492.74" font-size="9.5" text-anchor="end" fill="#000" xml:space="preserve"><tspan font-weight="bold" font-style="normal">3</tspan></text>
<line x1="45.10" y1="449.52" x2="48.10" y2="449.52" stroke="#000" stroke-width="1.2" stroke-linecap="butt"/>
<text x="43.60" y="452.92" font-size="9.5" text-anchor="end" fill="#000" xml:space="preserve"><tspan font-weight="bold" font-style="normal">4</tspan></text>
<line x1="47.30" y1="608.80" x2="286.42" y2="608.80" stroke="#000" stroke-width="2" stroke-linecap="butt"/>
<line x1="48.10" y1="608.80" x2="48.10" y2="611.80" stroke="#000" stroke-width="1.2" stroke-linecap="butt"/>
<text x="48.10" y="622.40" font-size="9.5" text-anchor="middle" fill="#000" xml:space="preserve"><tspan font-weight="bold" font-style="normal">0</tspan></text>
<line x1="87.82" y1="608.80" x2="87.82" y2="611.80" stroke="#000" stroke-width="1.2" stroke-linecap="butt"/>
<text x="87.82" y="622.40" font-size="9.5" text-anchor="middle" fill="#000" xml:space="preserve"><tspan font-weight="bold" font-style="normal">6</tspan></text>
<line x1="127.54" y1="608.80" x2="127.54" y2="611.80" stroke="#000" stroke-width="1.2" stroke-linecap="butt"/>
<text x="127.54" y="622.40" font-size="9.5" text-anchor="middle" fill="#000" xml:space="preserve"><tspan font-weight="bold" font-style="normal">12</tspan></text>
<line x1="167.26" y1="608.80" x2="167.26" y2="611.80" stroke="#000" stroke-width="1.2" stroke-linecap="butt"/>
<text x="167.26" y="622.40" font-size="9.5" text-anchor="middle" fill="#000" xml:space="preserve"><tspan font-weight="bold" font-style="normal">18</tspan></text>
<line x1="206.98" y1="608.80" x2="206.98" y2="611.80" stroke="#000" stroke-width="1.2" stroke-linecap="butt"/>
<text x="206.98" y="622.40" font-size="9.5" text-anchor="middle" fill="#000" xml:space="preserve"><tspan font-weight="bold" font-style="normal">24</tspan></text>
<line x1="246.70" y1="608.80" x2="246.70" y2="611.80" stroke="#000" stroke-width="1.2" stroke-linecap="butt"/>
<text x="246.70" y="622.40" font-size="9.5" text-anchor="middle" fill="#000" xml:space="preserve"><tspan font-weight="bold" font-style="normal">30</tspan></text>
<line x1="286.42" y1="608.80" x2="286.42" y2="611.80" stroke="#000" stroke-width="1.2" stroke-linecap="butt"/>
<text x="286.42" y="622.40" font-size="9.5" text-anchor="middle" fill="#000" xml:space="preserve"><tspan font-weight="bold" font-style="normal">36</tspan></text>
<text x="167.30" y="635.80" font-size="10.6" text-anchor="middle" fill="#000" xml:space="preserve"><tspan font-weight="bold" font-style="normal">Time (hours)</tspan></text>
<text x="18.60" y="527.80" font-size="10.83" text-anchor="middle" fill="#000" transform="rotate(-90 18.60 527.80)" xml:space="preserve"><tspan font-weight="bold" font-style="normal">level of </tspan><tspan font-weight="bold" font-style="italic">Smed-p38 MAPK</tspan><tspan font-weight="bold" font-style="normal"> mRNA</tspan></text>
<text x="32.60" y="527.80" font-size="10.63" text-anchor="middle" fill="#000" transform="rotate(-90 32.60 527.80)" xml:space="preserve"><tspan font-weight="bold" font-style="normal">expression in relative fold change</tspan></text>
<polyline points="48.10,568.98 61.34,568.98 87.82,553.45 127.54,541.50 206.98,571.77 286.42,581.32" fill="none" stroke="#1a04ee" stroke-width="1" stroke-linejoin="round"/>
<line x1="61.34" y1="563.41" x2="61.34" y2="574.55" stroke="#1a04ee" stroke-width="2" stroke-linecap="butt"/>
<line x1="59.09" y1="563.41" x2="63.59" y2="563.41" stroke="#1a04ee" stroke-width="1.5" stroke-linecap="butt"/>
<line x1="59.09" y1="574.55" x2="63.59" y2="574.55" stroke="#1a04ee" stroke-width="1.5" stroke-linecap="butt"/>
<line x1="87.82" y1="542.70" x2="87.82" y2="564.20" stroke="#1a04ee" stroke-width="2" stroke-linecap="butt"/>
<line x1="85.57" y1="542.70" x2="90.07" y2="542.70" stroke="#1a04ee" stroke-width="1.5" stroke-linecap="butt"/>
<line x1="85.57" y1="564.20" x2="90.07" y2="564.20" stroke="#1a04ee" stroke-width="1.5" stroke-linecap="butt"/>
<line x1="127.54" y1="535.13" x2="127.54" y2="547.88" stroke="#1a04ee" stroke-width="2" stroke-linecap="butt"/>
<line x1="125.29" y1="535.13" x2="129.79" y2="535.13" stroke="#1a04ee" stroke-width="1.5" stroke-linecap="butt"/>
<line x1="125.29" y1="547.88" x2="129.79" y2="547.88" stroke="#1a04ee" stroke-width="1.5" stroke-linecap="butt"/>
<line x1="206.98" y1="564.20" x2="206.98" y2="579.33" stroke="#1a04ee" stroke-width="2" stroke-linecap="butt"/>
<line x1="204.73" y1="564.20" x2="209.23" y2="564.20" stroke="#1a04ee" stroke-width="1.5" stroke-linecap="butt"/>
<line x1="204.73" y1="579.33" x2="209.23" y2="579.33" stroke="#1a04ee" stroke-width="1.5" stroke-linecap="butt"/>
<line x1="286.42" y1="572.56" x2="286.42" y2="590.08" stroke="#1a04ee" stroke-width="2" stroke-linecap="butt"/>
<line x1="284.17" y1="572.56" x2="288.67" y2="572.56" stroke="#1a04ee" stroke-width="1.5" stroke-linecap="butt"/>
<line x1="284.17" y1="590.08" x2="288.67" y2="590.08" stroke="#1a04ee" stroke-width="1.5" stroke-linecap="butt"/>
<rect x="45.80" y="566.68" width="4.60" height="4.60" fill="#1a04ee"/>
<rect x="59.04" y="566.68" width="4.60" height="4.60" fill="#1a04ee"/>
<rect x="85.52" y="551.15" width="4.60" height="4.60" fill="#1a04ee"/>
<rect x="125.24" y="539.20" width="4.60" height="4.60" fill="#1a04ee"/>
<rect x="204.68" y="569.47" width="4.60" height="4.60" fill="#1a04ee"/>
<rect x="284.12" y="579.02" width="4.60" height="4.60" fill="#1a04ee"/>
<polyline points="48.10,568.98 61.34,497.30 87.82,489.34 127.54,478.59 206.98,545.49 286.42,561.41" fill="none" stroke="#d2161e" stroke-width="1" stroke-linejoin="round"/>
<line x1="61.34" y1="491.73" x2="61.34" y2="502.88" stroke="#d2161e" stroke-width="2" stroke-linecap="butt"/>
<line x1="59.09" y1="491.73" x2="63.59" y2="491.73" stroke="#d2161e" stroke-width="1.5" stroke-linecap="butt"/>
<line x1="59.09" y1="502.88" x2="63.59" y2="502.88" stroke="#d2161e" stroke-width="1.5" stroke-linecap="butt"/>
<line x1="87.82" y1="478.99" x2="87.82" y2="499.69" stroke="#d2161e" stroke-width="2" stroke-linecap="butt"/>
<line x1="85.57" y1="478.99" x2="90.07" y2="478.99" stroke="#d2161e" stroke-width="1.5" stroke-linecap="butt"/>
<line x1="85.57" y1="499.69" x2="90.07" y2="499.69" stroke="#d2161e" stroke-width="1.5" stroke-linecap="butt"/>
<line x1="127.54" y1="472.22" x2="127.54" y2="484.96" stroke="#d2161e" stroke-width="2" stroke-linecap="butt"/>
<line x1="125.29" y1="472.22" x2="129.79" y2="472.22" stroke="#d2161e" stroke-width="1.5" stroke-linecap="butt"/>
<line x1="125.29" y1="484.96" x2="129.79" y2="484.96" stroke="#d2161e" stroke-width="1.5" stroke-linecap="butt"/>
<line x1="206.98" y1="538.72" x2="206.98" y2="552.26" stroke="#d2161e" stroke-width="2" stroke-linecap="butt"/>
<line x1="204.73" y1="538.72" x2="209.23" y2="538.72" stroke="#d2161e" stroke-width="1.5" stroke-linecap="butt"/>
<line x1="204.73" y1="552.26" x2="209.23" y2="552.26" stroke="#d2161e" stroke-width="1.5" stroke-linecap="butt"/>
<line x1="286.42" y1="556.04" x2="286.42" y2="566.79" stroke="#d2161e" stroke-width="2" stroke-linecap="butt"/>
<line x1="284.17" y1="556.04" x2="288.67" y2="556.04" stroke="#d2161e" stroke-width="1.5" stroke-linecap="butt"/>
<line x1="284.17" y1="566.79" x2="288.67" y2="566.79" stroke="#d2161e" stroke-width="1.5" stroke-linecap="butt"/>
<circle cx="48.10" cy="568.98" r="2.3" fill="#d2161e"/>
<circle cx="61.34" cy="497.30" r="2.3" fill="#d2161e"/>
<circle cx="87.82" cy="489.34" r="2.3" fill="#d2161e"/>
<circle cx="127.54" cy="478.59" r="2.3" fill="#d2161e"/>
<circle cx="206.98" cy="545.49" r="2.3" fill="#d2161e"/>
<circle cx="286.42" cy="561.41" r="2.3" fill="#d2161e"/>
<path d="M61.34 485.26L61.34 482.51M61.34 485.26L63.96 484.41M61.34 485.26L62.96 487.49M61.34 485.26L59.72 487.49M61.34 485.26L58.72 484.41" stroke="#000" stroke-width="1.08" stroke-linecap="round" fill="none"/>
<path d="M87.82 472.06L87.82 469.31M87.82 472.06L90.44 471.21M87.82 472.06L89.44 474.29M87.82 472.06L86.20 474.29M87.82 472.06L85.20 471.21" stroke="#000" stroke-width="1.08" stroke-linecap="round" fill="none"/>
<path d="M127.54 466.06L127.54 463.31M127.54 466.06L130.16 465.21M127.54 466.06L129.16 468.29M127.54 466.06L125.92 468.29M127.54 466.06L124.92 465.21" stroke="#000" stroke-width="1.08" stroke-linecap="round" fill="none"/>
<path d="M206.98 529.96L206.98 527.21M206.98 529.96L209.60 529.11M206.98 529.96L208.60 532.19M206.98 529.96L205.36 532.19M206.98 529.96L204.36 529.11" stroke="#000" stroke-width="1.08" stroke-linecap="round" fill="none"/>
<path d="M286.42 547.66L286.42 544.91M286.42 547.66L289.04 546.81M286.42 547.66L288.04 549.89M286.42 547.66L284.80 549.89M286.42 547.66L283.80 546.81" stroke="#000" stroke-width="1.08" stroke-linecap="round" fill="none"/>
<line x1="58.40" y1="443.60" x2="69.40" y2="443.60" stroke="#d2161e" stroke-width="1.2" stroke-linecap="butt"/>
<circle cx="63.40" cy="443.60" r="2.0" fill="#d2161e"/>
<line x1="58.40" y1="456.70" x2="69.40" y2="456.70" stroke="#1a04ee" stroke-width="1.2" stroke-linecap="butt"/>
<rect x="61.40" y="454.70" width="4.00" height="4.00" fill="#1a04ee"/>
<text x="75.00" y="447.60" font-size="11.0" text-anchor="start" fill="#000" xml:space="preserve"><tspan font-weight="normal" font-style="normal">reinfection </tspan><tspan font-weight="normal" font-style="italic">eGFP (RNAi)</tspan></text>
<text x="75.00" y="460.70" font-size="11.0" text-anchor="start" fill="#000" xml:space="preserve"><tspan font-weight="normal" font-style="normal">reinfection </tspan><tspan font-weight="normal" font-style="italic">Smed-setd8-1 (RNAi)</tspan></text>
<text x="314.50" y="441.26" font-size="16" text-anchor="start" fill="#000" xml:space="preserve"><tspan font-weight="bold" font-style="normal">H</tspan></text>
<line x1="358.80" y1="609.20" x2="358.80" y2="447.70" stroke="#000" stroke-width="1.6" stroke-linecap="butt"/>
<line x1="355.80" y1="608.40" x2="358.80" y2="608.40" stroke="#000" stroke-width="1.2" stroke-linecap="butt"/>
<text x="354.30" y="611.80" font-size="9.5" text-anchor="end" fill="#000" xml:space="preserve"><tspan font-weight="bold" font-style="normal">0</tspan></text>
<line x1="355.80" y1="581.70" x2="358.80" y2="581.70" stroke="#000" stroke-width="1.2" stroke-linecap="butt"/>
<text x="354.30" y="585.10" font-size="9.5" text-anchor="end" fill="#000" xml:space="preserve"><tspan font-weight="bold" font-style="normal">1</tspan></text>
<line x1="355.80" y1="555.00" x2="358.80" y2="555.00" stroke="#000" stroke-width="1.2" stroke-linecap="butt"/>
<text x="354.30" y="558.40" font-size="9.5" text-anchor="end" fill="#000" xml:space="preserve"><tspan font-weight="bold" font-style="normal">2</tspan></text>
<line x1="355.80" y1="528.30" x2="358.80" y2="528.30" stroke="#000" stroke-width="1.2" stroke-linecap="butt"/>
<text x="354.30" y="531.70" font-size="9.5" text-anchor="end" fill="#000" xml:space="preserve"><tspan font-weight="bold" font-style="normal">3</tspan></text>
<line x1="355.80" y1="501.60" x2="358.80" y2="501.60" stroke="#000" stroke-width="1.2" stroke-linecap="butt"/>
<text x="354.30" y="505.00" font-size="9.5" text-anchor="end" fill="#000" xml:space="preserve"><tspan font-weight="bold" font-style="normal">4</tspan></text>
<line x1="355.80" y1="474.90" x2="358.80" y2="474.90" stroke="#000" stroke-width="1.2" stroke-linecap="butt"/>
<text x="354.30" y="478.30" font-size="9.5" text-anchor="end" fill="#000" xml:space="preserve"><tspan font-weight="bold" font-style="normal">5</tspan></text>
<line x1="355.80" y1="448.20" x2="358.80" y2="448.20" stroke="#000" stroke-width="1.2" stroke-linecap="butt"/>
<text x="354.30" y="451.60" font-size="9.5" text-anchor="end" fill="#000" xml:space="preserve"><tspan font-weight="bold" font-style="normal">6</tspan></text>
<line x1="358.00" y1="608.40" x2="598.38" y2="608.40" stroke="#000" stroke-width="2" stroke-linecap="butt"/>
<line x1="358.80" y1="608.40" x2="358.80" y2="611.40" stroke="#000" stroke-width="1.2" stroke-linecap="butt"/>
<text x="358.80" y="621.90" font-size="9.5" text-anchor="middle" fill="#000" xml:space="preserve"><tspan font-weight="bold" font-style="normal">0</tspan></text>
<line x1="398.73" y1="608.40" x2="398.73" y2="611.40" stroke="#000" stroke-width="1.2" stroke-linecap="butt"/>
<text x="398.73" y="621.90" font-size="9.5" text-anchor="middle" fill="#000" xml:space="preserve"><tspan font-weight="bold" font-style="normal">6</tspan></text>
<line x1="438.66" y1="608.40" x2="438.66" y2="611.40" stroke="#000" stroke-width="1.2" stroke-linecap="butt"/>
<text x="438.66" y="621.90" font-size="9.5" text-anchor="middle" fill="#000" xml:space="preserve"><tspan font-weight="bold" font-style="normal">12</tspan></text>
<line x1="478.59" y1="608.40" x2="478.59" y2="611.40" stroke="#000" stroke-width="1.2" stroke-linecap="butt"/>
<text x="478.59" y="621.90" font-size="9.5" text-anchor="middle" fill="#000" xml:space="preserve"><tspan font-weight="bold" font-style="normal">18</tspan></text>
<line x1="518.52" y1="608.40" x2="518.52" y2="611.40" stroke="#000" stroke-width="1.2" stroke-linecap="butt"/>
<text x="518.52" y="621.90" font-size="9.5" text-anchor="middle" fill="#000" xml:space="preserve"><tspan font-weight="bold" font-style="normal">24</tspan></text>
<line x1="558.45" y1="608.40" x2="558.45" y2="611.40" stroke="#000" stroke-width="1.2" stroke-linecap="butt"/>
<text x="558.45" y="621.90" font-size="9.5" text-anchor="middle" fill="#000" xml:space="preserve"><tspan font-weight="bold" font-style="normal">30</tspan></text>
<line x1="598.38" y1="608.40" x2="598.38" y2="611.40" stroke="#000" stroke-width="1.2" stroke-linecap="butt"/>
<text x="598.38" y="621.90" font-size="9.5" text-anchor="middle" fill="#000" xml:space="preserve"><tspan font-weight="bold" font-style="normal">36</tspan></text>
<text x="478.80" y="635.50" font-size="10.6" text-anchor="middle" fill="#000" xml:space="preserve"><tspan font-weight="bold" font-style="normal">Time (hours)</tspan></text>
<text x="329.50" y="527.50" font-size="11.0" text-anchor="middle" fill="#000" transform="rotate(-90 329.50 527.50)" xml:space="preserve"><tspan font-weight="bold" font-style="normal">level of </tspan><tspan font-weight="bold" font-style="italic">Smed-morn2</tspan><tspan font-weight="bold" font-style="normal"> mRNA</tspan></text>
<text x="343.00" y="527.70" font-size="10.7" text-anchor="middle" fill="#000" transform="rotate(-90 343.00 527.70)" xml:space="preserve"><tspan font-weight="bold" font-style="normal">expression in relative fold change</tspan></text>
<polyline points="358.80,581.70 372.11,541.12 398.73,549.93 438.66,567.01 518.52,596.92 598.38,602.53" fill="none" stroke="#1a04ee" stroke-width="1" stroke-linejoin="round"/>
<line x1="372.11" y1="531.50" x2="372.11" y2="550.73" stroke="#1a04ee" stroke-width="2" stroke-linecap="butt"/>
<line x1="369.86" y1="531.50" x2="374.36" y2="531.50" stroke="#1a04ee" stroke-width="1.5" stroke-linecap="butt"/>
<line x1="369.86" y1="550.73" x2="374.36" y2="550.73" stroke="#1a04ee" stroke-width="1.5" stroke-linecap="butt"/>
<line x1="398.73" y1="536.58" x2="398.73" y2="563.28" stroke="#1a04ee" stroke-width="2" stroke-linecap="butt"/>
<line x1="396.48" y1="536.58" x2="400.98" y2="536.58" stroke="#1a04ee" stroke-width="1.5" stroke-linecap="butt"/>
<line x1="396.48" y1="563.28" x2="400.98" y2="563.28" stroke="#1a04ee" stroke-width="1.5" stroke-linecap="butt"/>
<line x1="438.66" y1="557.67" x2="438.66" y2="576.36" stroke="#1a04ee" stroke-width="2" stroke-linecap="butt"/>
<line x1="436.41" y1="557.67" x2="440.91" y2="557.67" stroke="#1a04ee" stroke-width="1.5" stroke-linecap="butt"/>
<line x1="436.41" y1="576.36" x2="440.91" y2="576.36" stroke="#1a04ee" stroke-width="1.5" stroke-linecap="butt"/>
<line x1="518.52" y1="585.44" x2="518.52" y2="608.40" stroke="#1a04ee" stroke-width="2" stroke-linecap="butt"/>
<line x1="516.27" y1="585.44" x2="520.77" y2="585.44" stroke="#1a04ee" stroke-width="1.5" stroke-linecap="butt"/>
<line x1="516.27" y1="608.40" x2="520.77" y2="608.40" stroke="#1a04ee" stroke-width="1.5" stroke-linecap="butt"/>
<line x1="598.38" y1="597.45" x2="598.38" y2="607.60" stroke="#1a04ee" stroke-width="2" stroke-linecap="butt"/>
<line x1="596.13" y1="597.45" x2="600.63" y2="597.45" stroke="#1a04ee" stroke-width="1.5" stroke-linecap="butt"/>
<line x1="596.13" y1="607.60" x2="600.63" y2="607.60" stroke="#1a04ee" stroke-width="1.5" stroke-linecap="butt"/>
<rect x="356.50" y="579.40" width="4.60" height="4.60" fill="#1a04ee"/>
<rect x="369.81" y="538.82" width="4.60" height="4.60" fill="#1a04ee"/>
<rect x="396.43" y="547.63" width="4.60" height="4.60" fill="#1a04ee"/>
<rect x="436.36" y="564.72" width="4.60" height="4.60" fill="#1a04ee"/>
<rect x="516.22" y="594.62" width="4.60" height="4.60" fill="#1a04ee"/>
<rect x="596.08" y="600.23" width="4.60" height="4.60" fill="#1a04ee"/>
<polyline points="358.80,581.70 372.11,480.51 398.73,472.50 438.66,525.90 518.52,569.42 598.38,583.03" fill="none" stroke="#d2161e" stroke-width="1" stroke-linejoin="round"/>
<line x1="372.11" y1="467.16" x2="372.11" y2="493.86" stroke="#d2161e" stroke-width="2" stroke-linecap="butt"/>
<line x1="369.86" y1="467.16" x2="374.36" y2="467.16" stroke="#d2161e" stroke-width="1.5" stroke-linecap="butt"/>
<line x1="369.86" y1="493.86" x2="374.36" y2="493.86" stroke="#d2161e" stroke-width="1.5" stroke-linecap="butt"/>
<line x1="398.73" y1="463.42" x2="398.73" y2="481.57" stroke="#d2161e" stroke-width="2" stroke-linecap="butt"/>
<line x1="396.48" y1="463.42" x2="400.98" y2="463.42" stroke="#d2161e" stroke-width="1.5" stroke-linecap="butt"/>
<line x1="396.48" y1="481.57" x2="400.98" y2="481.57" stroke="#d2161e" stroke-width="1.5" stroke-linecap="butt"/>
<line x1="438.66" y1="512.28" x2="438.66" y2="539.51" stroke="#d2161e" stroke-width="2" stroke-linecap="butt"/>
<line x1="436.41" y1="512.28" x2="440.91" y2="512.28" stroke="#d2161e" stroke-width="1.5" stroke-linecap="butt"/>
<line x1="436.41" y1="539.51" x2="440.91" y2="539.51" stroke="#d2161e" stroke-width="1.5" stroke-linecap="butt"/>
<line x1="518.52" y1="559.54" x2="518.52" y2="579.30" stroke="#d2161e" stroke-width="2" stroke-linecap="butt"/>
<line x1="516.27" y1="559.54" x2="520.77" y2="559.54" stroke="#d2161e" stroke-width="1.5" stroke-linecap="butt"/>
<line x1="516.27" y1="579.30" x2="520.77" y2="579.30" stroke="#d2161e" stroke-width="1.5" stroke-linecap="butt"/>
<line x1="598.38" y1="570.49" x2="598.38" y2="595.58" stroke="#d2161e" stroke-width="2" stroke-linecap="butt"/>
<line x1="596.13" y1="570.49" x2="600.63" y2="570.49" stroke="#d2161e" stroke-width="1.5" stroke-linecap="butt"/>
<line x1="596.13" y1="595.58" x2="600.63" y2="595.58" stroke="#d2161e" stroke-width="1.5" stroke-linecap="butt"/>
<circle cx="358.80" cy="581.70" r="2.3" fill="#d2161e"/>
<circle cx="372.11" cy="480.51" r="2.3" fill="#d2161e"/>
<circle cx="398.73" cy="472.50" r="2.3" fill="#d2161e"/>
<circle cx="438.66" cy="525.90" r="2.3" fill="#d2161e"/>
<circle cx="518.52" cy="569.42" r="2.3" fill="#d2161e"/>
<circle cx="598.38" cy="583.03" r="2.3" fill="#d2161e"/>
<path d="M372.11 460.66L372.11 457.91M372.11 460.66L374.73 459.81M372.11 460.66L373.73 462.89M372.11 460.66L370.49 462.89M372.11 460.66L369.49 459.81" stroke="#000" stroke-width="1.08" stroke-linecap="round" fill="none"/>
<path d="M398.73 456.66L398.73 453.91M398.73 456.66L401.35 455.81M398.73 456.66L400.35 458.89M398.73 456.66L397.11 458.89M398.73 456.66L396.11 455.81" stroke="#000" stroke-width="1.08" stroke-linecap="round" fill="none"/>
<path d="M438.66 505.66L438.66 502.91M438.66 505.66L441.28 504.81M438.66 505.66L440.28 507.89M438.66 505.66L437.04 507.89M438.66 505.66L436.04 504.81" stroke="#000" stroke-width="1.08" stroke-linecap="round" fill="none"/>
<path d="M518.52 553.16L518.52 550.41M518.52 553.16L521.14 552.31M518.52 553.16L520.14 555.39M518.52 553.16L516.90 555.39M518.52 553.16L515.90 552.31" stroke="#000" stroke-width="1.08" stroke-linecap="round" fill="none"/>
<text x="599.70" y="566.80" font-size="17" text-anchor="middle" fill="#000" xml:space="preserve"><tspan font-weight="normal" font-style="normal">ns</tspan></text>
<line x1="431.00" y1="476.00" x2="442.00" y2="476.00" stroke="#d2161e" stroke-width="1.2" stroke-linecap="butt"/>
<circle cx="436.00" cy="476.00" r="2.0" fill="#d2161e"/>
<line x1="431.00" y1="490.40" x2="442.00" y2="490.40" stroke="#1a04ee" stroke-width="1.2" stroke-linecap="butt"/>
<rect x="434.00" y="488.40" width="4.00" height="4.00" fill="#1a04ee"/>
<text x="447.20" y="480.00" font-size="11.0" text-anchor="start" fill="#000" xml:space="preserve"><tspan font-weight="normal" font-style="normal">reinfection </tspan><tspan font-weight="normal" font-style="italic">eGFP (RNAi)</tspan></text>
<text x="447.20" y="494.40" font-size="11.0" text-anchor="start" fill="#000" xml:space="preserve"><tspan font-weight="normal" font-style="normal">reinfection </tspan><tspan font-weight="normal" font-style="italic">Smed-setd8-1 (RNAi)</tspan></text>
<text x="5.50" y="679.67" font-size="16.3" text-anchor="start" fill="#000" xml:space="preserve"><tspan font-weight="bold" font-style="normal">I</tspan></text>
<rect x="68.40" y="698.80" width="46.10" height="119.30" fill="#000"/>
<rect x="157.90" y="773.96" width="46.50" height="44.14" fill="#6f6f6f"/>
<line x1="181.15" y1="773.96" x2="181.15" y2="770.38" stroke="#6f6f6f" stroke-width="1.2" stroke-linecap="butt"/>
<line x1="170.15" y1="770.38" x2="192.15" y2="770.38" stroke="#6f6f6f" stroke-width="1.5" stroke-linecap="butt"/>
<line x1="46.20" y1="818.90" x2="46.20" y2="698.30" stroke="#000" stroke-width="1.6" stroke-linecap="butt"/>
<line x1="43.70" y1="818.10" x2="46.20" y2="818.10" stroke="#000" stroke-width="1.2" stroke-linecap="butt"/>
<text x="43.40" y="821.14" font-size="8.5" text-anchor="end" fill="#000" xml:space="preserve"><tspan font-weight="bold" font-style="normal">0.0</tspan></text>
<line x1="43.70" y1="758.45" x2="46.20" y2="758.45" stroke="#000" stroke-width="1.2" stroke-linecap="butt"/>
<text x="43.40" y="761.49" font-size="8.5" text-anchor="end" fill="#000" xml:space="preserve"><tspan font-weight="bold" font-style="normal">0.5</tspan></text>
<line x1="43.70" y1="698.80" x2="46.20" y2="698.80" stroke="#000" stroke-width="1.2" stroke-linecap="butt"/>
<text x="43.40" y="701.84" font-size="8.5" text-anchor="end" fill="#000" xml:space="preserve"><tspan font-weight="bold" font-style="normal">1.0</tspan></text>
<line x1="45.40" y1="818.10" x2="226.20" y2="818.10" stroke="#000" stroke-width="1.6" stroke-linecap="butt"/>
<line x1="136.50" y1="818.10" x2="136.50" y2="821.10" stroke="#000" stroke-width="1.2" stroke-linecap="butt"/>
<line x1="96.70" y1="692.00" x2="182.80" y2="692.00" stroke="#000" stroke-width="1.5" stroke-linecap="butt"/>
<path d="M140.00 683.36L140.00 680.61M140.00 683.36L142.62 682.51M140.00 683.36L141.62 685.59M140.00 683.36L138.38 685.59M140.00 683.36L137.38 682.51" stroke="#000" stroke-width="1.08" stroke-linecap="round" fill="none"/>
<text x="136.50" y="829.30" font-size="8.6" text-anchor="middle" fill="#000" xml:space="preserve"><tspan font-weight="normal" font-style="italic">Smed-p38 MAP-kinase</tspan></text>
<rect x="59.80" y="841.40" width="9.00" height="5.50" fill="#000"/>
<text x="72.50" y="846.70" font-size="7.4" text-anchor="start" fill="#000" xml:space="preserve"><tspan font-weight="normal" font-style="italic">eGFP (RNAi)</tspan></text>
<rect x="126.50" y="841.40" width="9.00" height="5.50" fill="#6f6f6f"/>
<text x="140.00" y="846.70" font-size="7.4" text-anchor="start" fill="#000" xml:space="preserve"><tspan font-weight="normal" font-style="italic">Smed-PGRP-2 (RNAi)</tspan></text>
<text x="0" y="0" font-size="8.0" text-anchor="middle" fill="#000" transform="translate(16.30 756.70) rotate(-90) scale(1 1.18)" xml:space="preserve"><tspan font-weight="bold" font-style="normal">level of </tspan><tspan font-weight="bold" font-style="italic">Smed-p38 MAP-Kinase</tspan><tspan font-weight="bold" font-style="normal"> mRNA</tspan></text>
<text x="0" y="0" font-size="8.0" text-anchor="middle" fill="#000" transform="translate(25.60 756.70) rotate(-90) scale(1 1.08)" xml:space="preserve"><tspan font-weight="bold" font-style="normal">expression in relative fold change</tspan></text>
<text x="248.50" y="679.67" font-size="16.3" text-anchor="start" fill="#000" xml:space="preserve"><tspan font-weight="bold" font-style="normal">J</tspan></text>
<rect x="315.20" y="698.80" width="45.40" height="119.30" fill="#000"/>
<rect x="405.00" y="779.92" width="45.20" height="38.18" fill="#6f6f6f"/>
<line x1="427.60" y1="779.92" x2="427.60" y2="765.61" stroke="#6f6f6f" stroke-width="1.2" stroke-linecap="butt"/>
<line x1="416.60" y1="765.61" x2="438.60" y2="765.61" stroke="#6f6f6f" stroke-width="1.5" stroke-linecap="butt"/>
<line x1="293.00" y1="818.90" x2="293.00" y2="698.30" stroke="#000" stroke-width="1.6" stroke-linecap="butt"/>
<line x1="290.50" y1="818.10" x2="293.00" y2="818.10" stroke="#000" stroke-width="1.2" stroke-linecap="butt"/>
<text x="290.20" y="821.14" font-size="8.5" text-anchor="end" fill="#000" xml:space="preserve"><tspan font-weight="bold" font-style="normal">0.0</tspan></text>
<line x1="290.50" y1="758.45" x2="293.00" y2="758.45" stroke="#000" stroke-width="1.2" stroke-linecap="butt"/>
<text x="290.20" y="761.49" font-size="8.5" text-anchor="end" fill="#000" xml:space="preserve"><tspan font-weight="bold" font-style="normal">0.5</tspan></text>
<line x1="290.50" y1="698.80" x2="293.00" y2="698.80" stroke="#000" stroke-width="1.2" stroke-linecap="butt"/>
<text x="290.20" y="701.84" font-size="8.5" text-anchor="end" fill="#000" xml:space="preserve"><tspan font-weight="bold" font-style="normal">1.0</tspan></text>
<line x1="292.20" y1="818.10" x2="472.40" y2="818.10" stroke="#000" stroke-width="1.6" stroke-linecap="butt"/>
<line x1="382.90" y1="818.10" x2="382.90" y2="821.10" stroke="#000" stroke-width="1.2" stroke-linecap="butt"/>
<line x1="338.40" y1="694.70" x2="423.90" y2="694.70" stroke="#000" stroke-width="1.5" stroke-linecap="butt"/>
<path d="M380.80 685.76L380.80 683.01M380.80 685.76L383.42 684.91M380.80 685.76L382.42 687.99M380.80 685.76L379.18 687.99M380.80 685.76L378.18 684.91" stroke="#000" stroke-width="1.08" stroke-linecap="round" fill="none"/>
<text x="382.90" y="830.30" font-size="8.45" text-anchor="middle" fill="#000" xml:space="preserve"><tspan font-weight="normal" font-style="italic">Smed-MORN2</tspan></text>
<rect x="314.50" y="842.00" width="9.00" height="5.50" fill="#000"/>
<text x="326.10" y="847.30" font-size="7.4" text-anchor="start" fill="#000" xml:space="preserve"><tspan font-weight="normal" font-style="italic">eGFP (RNAi)</tspan></text>
<rect x="381.80" y="842.00" width="9.00" height="5.50" fill="#6f6f6f"/>
<text x="394.50" y="847.30" font-size="7.4" text-anchor="start" fill="#000" xml:space="preserve"><tspan font-weight="normal" font-style="italic">Smed-PGRP-2 (RNAi)</tspan></text>
<text x="0" y="0" font-size="8.0" text-anchor="middle" fill="#000" transform="translate(263.30 757.50) rotate(-90) scale(1 1.18)" xml:space="preserve"><tspan font-weight="bold" font-style="normal">level of </tspan><tspan font-weight="bold" font-style="italic">Smed-morn2</tspan><tspan font-weight="bold" font-style="normal"> mRNA</tspan></text>
<text x="0" y="0" font-size="8.0" text-anchor="middle" fill="#000" transform="translate(273.40 757.50) rotate(-90) scale(1 1.08)" xml:space="preserve"><tspan font-weight="bold" font-style="normal">expression in relative fold change</tspan></text>
</svg>
</body></html>
